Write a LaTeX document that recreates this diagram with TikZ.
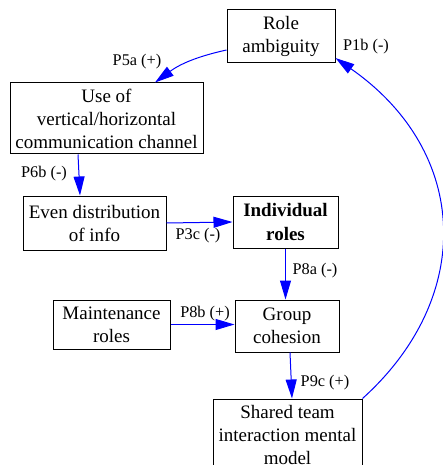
\documentclass[tikz,border=0pt]{standalone}
\usepackage{fontspec}
\setmainfont{LiberationSerif}[Extension=.ttf, UprightFont=*-Regular, BoldFont=*-Bold]
\usepackage{tikz}
\usetikzlibrary{arrows.meta, positioning, calc}

\begin{document}
\begin{tikzpicture}[x=1pt, y=-1pt,
	box/.style={rectangle, draw, line width=1pt, inner sep=0pt, align=center, font=\fontsize{19}{23}\selectfont},
	lbl/.style={inner sep=0pt, font=\fontsize{16.3}{19}\selectfont},
	arr/.style={draw=blue, line width=1pt, -{Triangle[length=19pt, width=11pt]}}]
			\useasboundingbox (0,0) rectangle (442,465);
			\node[box, minimum width=108pt, minimum height=53pt] (role) at (281,36.5) {Role\\ambiguity};
			\node[box, minimum width=193pt, minimum height=71pt] (chan) at (106.5,118.5) {Use of\\vertical/horizontal\\communication channel};
			\node[box, minimum width=143pt, minimum height=54pt] (info) at (94.5,223) {Even distribution\\of info};
			\node[box, minimum width=105pt, minimum height=52pt, font=\fontsize{19}{23}\selectfont\bfseries] (indiv) at (285.5,222) {Individual\\roles};
			\node[box, minimum width=117pt, minimum height=49pt] (maint) at (111.5,324.5) {Maintenance\\roles};
			\node[box, minimum width=104pt, minimum height=52pt] (cohes) at (287,326) {Group\\cohesion};
			\node[box, minimum width=149pt, minimum height=72pt] (shared) at (287.5,435) {Shared team\\interaction mental\\model};

			% links
			\draw[arr] ([yshift=-13.5pt]role.west) to[bend right=12] ([xshift=48.5pt]chan.north);
			\draw[arr] ([xshift=-28.5pt]chan.south) -- ([xshift=-14.5pt]info.north);
			\draw[arr] (info.east) -- (indiv.west);
			\draw[arr] (indiv.south) -- (indiv.south |- cohes.north);
			\draw[arr] (maint.east) -- (maint.east -| cohes.west);
			\draw[arr] ([xshift=3pt]cohes.south) -- ([xshift=4.5pt]shared.north);
			\draw[arr] (shared.north east) .. controls (475,297) and (470,152) .. ([yshift=-21.5pt]role.east);

			% link labels
			\node[lbl] (p5a) at (137,62) {P5a (+)};
			\node[lbl] (p1b) at (366,47) {P1b (-)};
			\node[lbl] (p6b) at (44,174) {P6b (-)};
			\node[lbl] (p3c) at (198,236) {P3c (-)};
			\node[lbl] (p8a) at (315,271) {P8a (-)};
			\node[lbl] (p8b) at (205,314) {P8b (+)};
			\node[lbl] (p9c) at (325,383) {P9c (+)};
		\end{tikzpicture}
\end{document}
